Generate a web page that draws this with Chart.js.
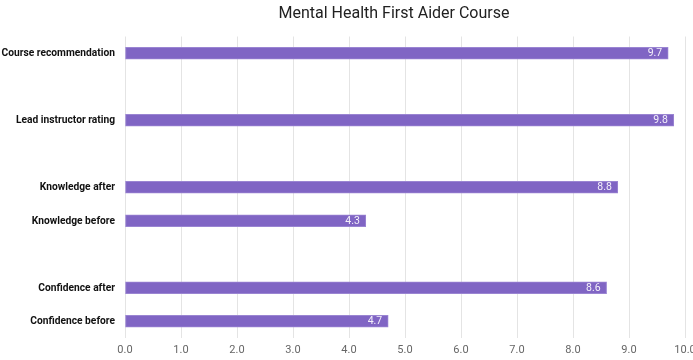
<!DOCTYPE html>
<html>
<head>
<meta charset="utf-8">
<script src="https://cdn.jsdelivr.net/npm/chart.js@4"></script>
<style>
  html, body { margin: 0; padding: 0; background: #fff; }
  #wrap { width: 693px; height: 360px; }
</style>
</head>
<body>
<div id="wrap"><canvas id="chart" width="693" height="360"></canvas></div>
<script>
// Blank categories keep the gaps between the groups of bars.
const categories = [
  'Course recommendation', '',
  'Lead instructor rating', '',
  'Knowledge after', 'Knowledge before', '',
  'Confidence after', 'Confidence before'
];
const scores = [9.7, null, 9.8, null, 8.8, 4.3, null, 8.6, 4.7];
const xTicks = [0, 1, 2, 3, 4, 5, 6, 7, 8, 9, 10];
const chartTitle = 'Mental Health First Aider Course';

const FONT = 'Roboto, "Noto Sans", Arial, sans-serif';

// value labels at the inner end of each bar, plus the narrow bold category
// labels and the title (which sits a bit right of the canvas centre)
const textLayer = {
  id: 'textLayer',
  afterDatasetsDraw(chart){
    const ctx = chart.ctx;
    const meta = chart.getDatasetMeta(0);
    ctx.save();
    ctx.font = '10.5px ' + FONT;
    ctx.fillStyle = '#f4f1fa';
    ctx.textAlign = 'right';
    ctx.textBaseline = 'middle';
    meta.data.forEach((bar, i) => {
      const v = scores[i];
      if(v == null) return;
      ctx.fillText(v.toFixed(1), bar.x - 6, bar.y + 0.5);
    });
    ctx.restore();
  },
  afterDraw(chart){
    const ctx = chart.ctx;
    const y = chart.scales.y;
    ctx.save();
    ctx.font = 'bold 11px ' + FONT;
    ctx.fillStyle = '#111111';
    ctx.textAlign = 'right';
    ctx.textBaseline = 'middle';
    categories.forEach((c, i) => {
      if(!c) return;
      ctx.save();
      ctx.translate(chart.chartArea.left - 10, y.getPixelForTick(i));
      ctx.scale(0.93, 1);
      ctx.fillText(c, 0, 0);
      ctx.restore();
    });
    ctx.font = '16px ' + FONT;
    ctx.fillStyle = '#212121';
    ctx.textAlign = 'center';
    ctx.fillText(chartTitle, 394, 14);
    ctx.restore();
  }
};

new Chart(document.getElementById('chart'), {
  type: 'bar',
  data: {
    labels: categories,
    datasets: [{
      data: scores,
      backgroundColor: '#8065c4',
      borderColor: '#9a85d2',
      borderWidth: 1,
      borderSkipped: false,
      barThickness: 12
    }]
  },
  options: {
    indexAxis: 'y',
    responsive: false,
    animation: false,
    layout: { padding: { left: 0, right: 0, top: 36.5, bottom: 0 } },
    plugins: {
      legend: { display: false },
      tooltip: { enabled: false },
      title: { display: false }
    },
    scales: {
      x: {
        min: 0, max: 10,
        afterBuildTicks(scale){ scale.ticks = xTicks.map(v => ({ value: v })); },
        afterFit(scale){ scale.height = 22; scale.paddingRight = 8; },
        ticks: {
          color: '#666666',
          font: { family: FONT, size: 11 },
          padding: 6,
          callback: v => Number(v).toFixed(1)
        },
        grid: { color: '#e4e4e4', drawTicks: false },
        border: { display: false }
      },
      y: {
        afterFit(scale){ scale.width = 125; },
        ticks: { display: false },
        grid: { display: false },
        border: { display: false }
      }
    }
  },
  plugins: [textLayer]
});
</script>
</body>
</html>
